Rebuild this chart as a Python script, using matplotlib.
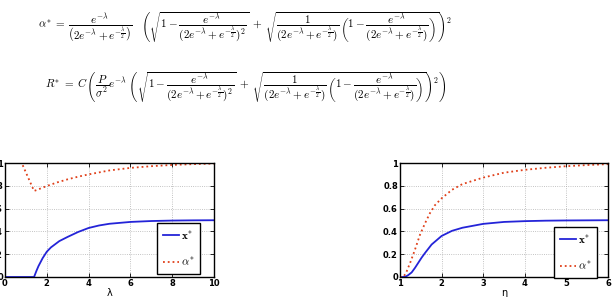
import matplotlib
matplotlib.use("Agg")
import matplotlib.pyplot as plt

# values
lam_x = [0, 1.39, 1.45, 1.5, 1.6, 1.8, 2.0, 2.2, 2.6, 3.0, 3.5, 4.0, 4.5, 5.0, 6.0, 7.0, 8.0, 9.0, 10.0]
x_lam = [0, 0, 0.028, 0.052, 0.095, 0.165, 0.222, 0.26, 0.315, 0.352, 0.395, 0.43, 0.452, 0.467, 0.483, 0.491, 0.495, 0.497, 0.498]

lam_a = [0, 0.8, 1.39, 1.5, 2.0, 2.5, 3.0, 3.5, 4.0, 5.0, 6.0, 7.0, 8.0, 9.0, 10.0]
a_lam = [1, 1, 0.755, 0.762, 0.798, 0.83, 0.857, 0.88, 0.9, 0.935, 0.957, 0.972, 0.983, 0.99, 0.995]

eta_x = [1.0, 1.08, 1.15, 1.2, 1.28, 1.36, 1.44, 1.52, 1.6, 1.76, 2.0, 2.25, 2.5, 3.0, 3.5, 4.0, 4.5, 5.0, 5.5, 6.0]
x_eta = [0, 0, 0.006, 0.017, 0.04, 0.08, 0.125, 0.17, 0.21, 0.285, 0.36, 0.405, 0.432, 0.466, 0.483, 0.49, 0.494, 0.496, 0.497, 0.498]

eta_a = [1.0, 1.08, 1.15, 1.25, 1.36, 1.48, 1.6, 1.72, 1.84, 2.0, 2.25, 2.5, 3.0, 3.5, 4.0, 4.5, 5.0, 5.5, 6.0]
a_eta = [0, 0, 0.04, 0.13, 0.24, 0.37, 0.47, 0.56, 0.63, 0.69, 0.765, 0.815, 0.872, 0.915, 0.94, 0.958, 0.972, 0.982, 0.99]

plt.rcParams["mathtext.fontset"] = "cm"

D = r"(2e^{-\lambda}+e^{-\frac{\lambda}{2}})"
inner = (r"\left(\sqrt{1-\dfrac{e^{-\lambda}}{" + D + r"^{2}}}\;+\;\sqrt{\dfrac{1}{" + D
         + r"}\,\left(1-\dfrac{e^{-\lambda}}{" + D + r"}\right)}\right)^{2}")
f1 = (r"$\alpha^{*}\;=\;\dfrac{e^{-\lambda}}{\left(2e^{-\lambda}+e^{-\frac{\lambda}{2}}\right)}\quad "
      + inner + "$")
f2 = r"$R^{*}\;=\;C\,\left(\dfrac{P}{\sigma^{2}}e^{-\lambda}\,\," + inner + r"\right)$"

fig = plt.figure(figsize=(6.14, 2.97), dpi=100)
fig.text(38 / 614, 1 - 27.5 / 297, f1, fontsize=8, va="center", ha="left")
fig.text(45 / 614, 1 - 87.5 / 297, f2, fontsize=8, va="center", ha="left")

blue = "#2424d8"
red = "#e0401a"


def style(ax, xlim, xticks, xlabel):
    ax.set_xlim(*xlim)
    ax.set_ylim(0, 1)
    ax.set_xticks(xticks)
    ax.set_yticks([0, 0.2, 0.4, 0.6, 0.8, 1])
    ax.set_yticklabels(["0", "0.2", "0.4", "0.6", "0.8", "1"])
    ax.tick_params(direction="in", top=True, right=True, length=3, width=0.6,
                   labelsize=6, pad=1.5)
    for lab in ax.get_xticklabels() + ax.get_yticklabels():
        lab.set_fontweight("bold")
    ax.grid(True, linestyle=":", color="#b0b0b0", linewidth=0.6)
    for s in ax.spines.values():
        s.set_linewidth(1.0)
    ax.set_xlabel(xlabel, fontsize=7, labelpad=0)


def add_legend(ax, anchor):
    leg = ax.legend(loc="upper left", bbox_to_anchor=anchor, fontsize=8,
                    frameon=True, fancybox=False, framealpha=1,
                    edgecolor="black", borderpad=0.55, labelspacing=1.3,
                    handlelength=1.4, handletextpad=0.2, borderaxespad=0)
    leg.get_frame().set_linewidth(1.0)


ax1 = fig.add_axes([5 / 614, 20 / 297, 209 / 614, 114 / 297])
ax1.plot(lam_x, x_lam, color=blue, lw=1.3, label=r"$\mathbf{x}^{*}$")
ax1.plot(lam_a, a_lam, color=red, lw=1.3, ls=":", label=r"$\alpha^{*}$")
style(ax1, (0, 10), [0, 2, 4, 6, 8, 10], "λ")
add_legend(ax1, (0.727, 0.474))

ax2 = fig.add_axes([400 / 614, 20 / 297, 208 / 614, 114 / 297])
ax2.plot(eta_x, x_eta, color=blue, lw=1.3, label=r"$\mathbf{x}^{*}$")
ax2.plot(eta_a, a_eta, color=red, lw=1.3, ls=":", label=r"$\alpha^{*}$")
style(ax2, (1, 6), [1, 2, 3, 4, 5, 6], "η")
add_legend(ax2, (0.74, 0.44))

fig.savefig("out.png", dpi=100)
